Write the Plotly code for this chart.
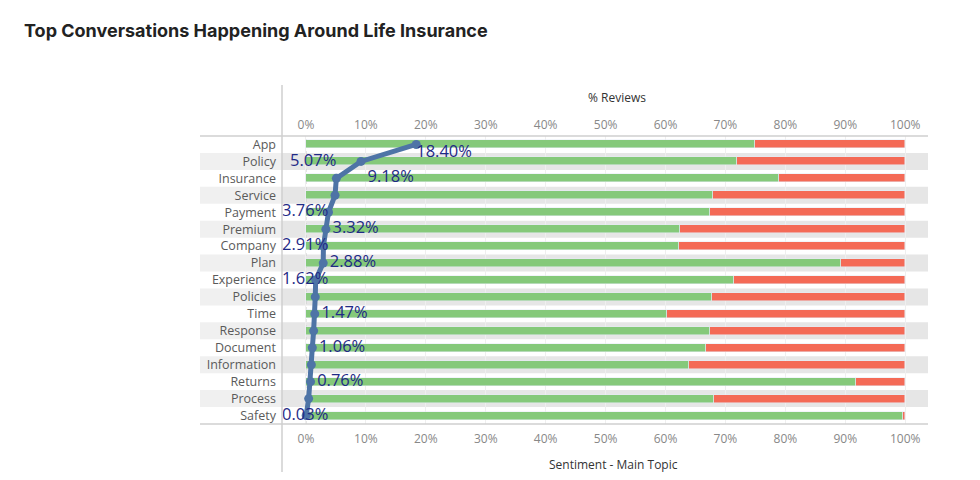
import plotly.graph_objects as go

# ---------------- data ----------------
topics = ["App", "Policy", "Insurance", "Service", "Payment", "Premium", "Company",
          "Plan", "Experience", "Policies", "Time", "Response", "Document",
          "Information", "Returns", "Process", "Safety"]
positive_pct = [75.0, 72.0, 79.0, 68.0, 67.4, 62.4, 62.3, 89.3, 71.5, 67.8,
                60.3, 67.4, 66.8, 63.9, 91.8, 68.1, 99.7]
negative_pct = [round(100 - p, 1) for p in positive_pct]
reviews_pct = [18.40, 9.18, 5.07, 4.85, 3.76, 3.32, 2.91, 2.88, 1.62, 1.55,
               1.47, 1.28, 1.06, 0.90, 0.76, 0.45, 0.03]

# data labels as they appear in the picture
label_values = [18.40, 5.07, 9.18, 3.76, 3.32, 2.91, 2.88, 1.62, 1.47, 1.06, 0.76, 0.03]
label_rows = ["App", "Policy", "Insurance", "Payment", "Premium", "Company", "Plan",
              "Experience", "Time", "Document", "Returns", "Safety"]
label_sides = ["below", "left", "right", "left", "right", "left", "right",
               "left", "right", "right", "right", "left"]

tick_vals = [0, 10, 20, 30, 40, 50, 60, 70, 80, 90, 100]
tick_text = [f"{v}%" for v in tick_vals]

# ---------------- layout constants ----------------
W, H = 980, 480
X_MIN, X_MAX = -4.0, 103.8
PANE_L, PANE_R = 282, 928
PANE_T, PANE_B = 136, 424
HEAD_L = 200
px_per_unit = (PANE_R - PANE_L) / (X_MAX - X_MIN)

GREEN = "#85C97A"
RED = "#F46A56"
LINE = "#4E74A6"
LABEL = "#1F2A86"
FONT = "Open Sans"

fig = go.Figure()

fig.add_trace(go.Bar(y=topics, x=positive_pct, orientation="h", marker_color=GREEN,
                     width=0.47, name="Positive", hoverinfo="x+y"))
fig.add_trace(go.Bar(y=topics, x=negative_pct, orientation="h", marker_color=RED,
                     width=0.47, name="Negative", hoverinfo="x+y"))
fig.add_trace(go.Scatter(y=topics, x=reviews_pct, mode="lines+markers",
                         line=dict(color=LINE, width=5),
                         marker=dict(color=LINE, size=9), name="% Reviews"))

# labels: left-side ones (text only, clamped to pane edge) and right-side ones
est_w = 54 / px_per_unit
left_x, left_y, left_t, left_p = [], [], [], []
right_x, right_y, right_t, right_p = [], [], [], []
for v, row, side in zip(label_values, label_rows, label_sides):
    txt = f"{v:.2f}%"
    if side == "left":
        left_y.append(row); left_t.append(txt)
        if v - est_w < X_MIN:
            left_x.append(X_MIN); left_p.append("middle right")
        else:
            left_x.append(v); left_p.append("middle left")
    elif side == "below":
        left_y.append(row); left_t.append(txt)
        left_x.append(v); left_p.append("bottom right")
    else:
        right_y.append(row); right_t.append(txt)
        right_x.append(v); right_p.append("middle right")

fig.add_trace(go.Scatter(y=left_y, x=left_x, mode="text", text=left_t,
                         textposition=left_p, cliponaxis=False,
                         textfont=dict(color=LABEL, size=16.5, family=FONT),
                         hoverinfo="skip", showlegend=False))
fig.add_trace(go.Scatter(y=right_y, x=right_x, mode="markers+text", text=right_t,
                         textposition=right_p, cliponaxis=False,
                         marker=dict(size=9, opacity=0),
                         textfont=dict(color=LABEL, size=16.5, family=FONT),
                         hoverinfo="skip", showlegend=False))
# invisible trace for bottom axis
fig.add_trace(go.Scatter(x=[0, 100], y=[topics[0], topics[0]], xaxis="x2",
                         mode="markers", marker=dict(opacity=0), hoverinfo="skip",
                         showlegend=False))

shapes = []
for i, t in enumerate(topics):
    if i % 2 == 1:
        shapes.append(dict(type="rect", xref="paper", yref="y",
                           x0=HEAD_L / W, x1=PANE_L / W, y0=i - 0.5, y1=i + 0.5,
                           fillcolor="#F0F0F0", line_width=0, layer="below"))
        shapes.append(dict(type="rect", xref="paper", yref="y",
                           x0=PANE_L / W, x1=PANE_R / W, y0=i - 0.5, y1=i + 0.5,
                           fillcolor="#E6E6E6", line_width=0, layer="between"))
# dotted zero line
shapes.append(dict(type="line", xref="x", yref="paper", x0=0, x1=0,
                   y0=1 - PANE_B / H, y1=1 - PANE_T / H,
                   line=dict(color="#C8C8C8", width=1, dash="dot"), layer="between"))
# frame lines
for yy in (PANE_T, PANE_B):
    shapes.append(dict(type="line", xref="paper", yref="paper",
                       x0=HEAD_L / W, x1=PANE_R / W, y0=1 - yy / H, y1=1 - yy / H,
                       line=dict(color="#CFCFCF", width=1.5), layer="above"))
shapes.append(dict(type="line", xref="paper", yref="paper",
                   x0=PANE_L / W, x1=PANE_L / W, y0=1 - 85 / H, y1=1 - 472 / H,
                   line=dict(color="#CFCFCF", width=1.5), layer="above"))

annotations = [
    dict(text="<b>Top Conversations Happening Around Life Insurance</b>",
         xref="paper", yref="paper", x=22 / W, y=1 - 31 / H, xanchor="left",
         yanchor="middle", showarrow=False,
         font=dict(family="Inter", size=18, color="#222222")),
    dict(text="% Reviews", xref="paper", yref="paper", x=617 / W, y=1 - 97 / H,
         xanchor="center", yanchor="middle", showarrow=False,
         font=dict(family=FONT, size=12, color="#333333")),
    dict(text="Sentiment - Main Topic", xref="paper", yref="paper", x=613 / W,
         y=1 - 464 / H, xanchor="center", yanchor="middle", showarrow=False,
         font=dict(family=FONT, size=12, color="#333333")),
]

axis_common = dict(range=[X_MIN, X_MAX], tickvals=tick_vals, ticktext=tick_text,
                   domain=[PANE_L / W, PANE_R / W], showline=False, zeroline=False,
                   automargin=False, tickfont=dict(family=FONT, size=12, color="#888888"),
                   fixedrange=True)

fig.update_layout(
    width=W, height=H, margin=dict(l=0, r=0, t=0, b=0),
    paper_bgcolor="white", plot_bgcolor="rgba(0,0,0,0)",
    barmode="stack", showlegend=False, bargap=0,
    xaxis=dict(side="top", showgrid=True, gridcolor="#EFEFEF", gridwidth=1,
               ticklabelstandoff=4, **axis_common),
    xaxis2=dict(side="bottom", overlaying="x", anchor="y", matches="x", showgrid=False,
                ticklabelstandoff=6, **axis_common),
    yaxis=dict(type="category", categoryorder="array", categoryarray=topics,
               range=[len(topics) - 0.5, -0.5], domain=[1 - PANE_B / H, 1 - PANE_T / H],
               showgrid=False, zeroline=False, showline=False, automargin=False,
               ticklabelstandoff=5,
               tickfont=dict(family=FONT, size=12.5, color="#5A5A5A"), fixedrange=True),
    shapes=shapes, annotations=annotations,
)

fig.write_html("out.html", config={"displayModeBar": False},
               post_script="document.body.style.margin='0';document.body.style.overflow='hidden';")
